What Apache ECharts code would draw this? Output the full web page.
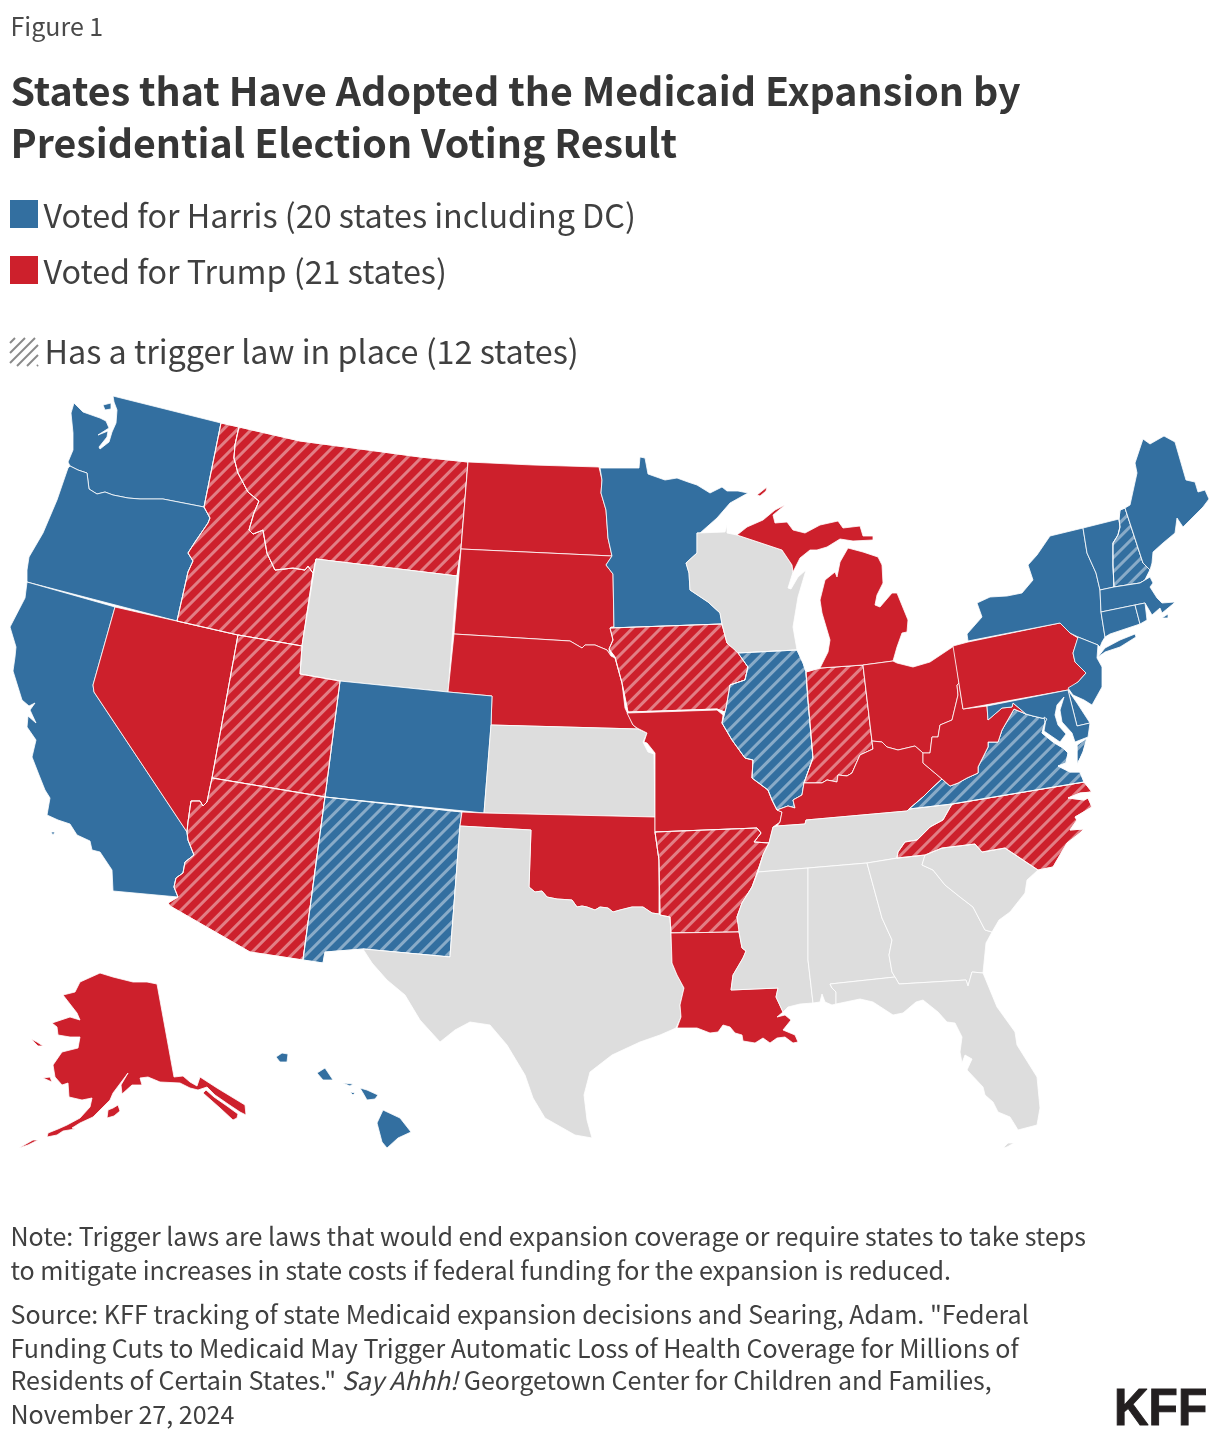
<!DOCTYPE html>
<html><head><meta charset="utf-8">
<script src="https://cdn.jsdelivr.net/npm/echarts@6/dist/echarts.min.js"></script>
<style>html,body{margin:0;padding:0;background:#fff}#c{width:1220px;height:1442px}</style>
</head><body><div id="c"></div>
<script>
// Expansion status by state
const harrisStates = ['Washington','Oregon','California','Colorado','Minnesota','New York','Vermont','Maine','Massachusetts','Connecticut','Rhode Island','New Jersey','Delaware','Maryland','District of Columbia','Hawaii','Illinois','New Mexico','Virginia','New Hampshire'];
const trumpStates = ['Alaska','Nevada','North Dakota','South Dakota','Nebraska','Oklahoma','Louisiana','Missouri','Kentucky','West Virginia','Ohio','Pennsylvania','Michigan','Idaho','Montana','Utah','Arizona','Iowa','Arkansas','Indiana','North Carolina'];
const notAdoptedStates = ['Wyoming','Kansas','Texas','Wisconsin','Mississippi','Alabama','Georgia','South Carolina','Florida','Tennessee'];
const triggerStates = ['Idaho','Montana','Utah','Arizona','Iowa','Arkansas','Indiana','North Carolina','Illinois','New Mexico','Virginia','New Hampshire'];
const legendLabels = ['Voted for Harris (20 states including DC)','Voted for Trump (21 states)','Has a trigger law in place (12 states)'];

// State outlines: a hand-simplified basemap in the map's own projected units
const basemap = {
'Washington':[[[74,403],[83,412],[100,418],[106,421],[109,428],[98,435],[108,431],[107,437],[99,447],[100,449],[109,442],[112,432],[116,423],[117,410],[114,402],[113,396],[221,423],[204,507],[163,499],[140,499],[128,498],[113,495],[105,492],[97,494],[89,489],[87,473],[78,470],[70,466],[68,462],[73,450],[73,433],[71,413]],[[103,405],[111,403],[111,409],[105,410]]],
'Oregon':[[[70,466],[78,470],[87,473],[89,489],[97,494],[105,492],[113,495],[128,498],[140,499],[163,499],[204,507],[210,518],[208,523],[195,542],[188,553],[193,561],[188,572],[177,621],[27,582],[27,570],[29,557],[43,533],[57,500],[68,468]]],
'California':[[[27,582],[115,607],[93,685],[94,692],[187,832],[188,840],[194,855],[185,862],[183,873],[176,878],[174,887],[178,897],[113,891],[112,870],[100,852],[92,850],[90,841],[77,835],[70,824],[58,820],[47,815],[50,798],[45,790],[39,775],[32,757],[36,740],[27,727],[28,716],[36,723],[30,710],[35,703],[29,706],[22,700],[13,671],[15,657],[16,647],[10,627],[25,598]],[[51,832],[55,832],[53,835]]],
'Nevada':[[[115,607],[238,635],[212,778],[207,802],[203,806],[200,801],[191,801],[188,822],[187,832],[94,692],[93,685]]],
'Idaho':[[[221,423],[239,427],[235,445],[234,458],[238,473],[248,492],[259,501],[254,513],[249,530],[253,534],[263,530],[267,553],[275,570],[293,568],[305,570],[308,566],[313,573],[302,646],[238,635],[177,621],[188,572],[193,561],[188,553],[195,542],[208,523],[210,518],[204,507]]],
'Montana':[[[239,427],[300,441],[368,450],[420,457],[468,462],[461,549],[457,576],[316,559],[313,573],[308,566],[305,570],[293,568],[275,570],[267,553],[263,530],[253,534],[249,530],[254,513],[259,501],[248,492],[238,473],[234,458],[235,445]]],
'Wyoming':[[[316,559],[457,576],[448,692],[340,681],[300,674],[302,646]]],
'North Dakota':[[[468,462],[533,465],[599,467],[602,480],[601,493],[606,510],[608,538],[612,556],[461,549]]],
'South Dakota':[[[461,549],[612,556],[606,565],[613,574],[614,627],[611,627],[613,640],[609,650],[611,656],[607,650],[595,645],[585,645],[582,648],[570,641],[454,634]]],
'Nebraska':[[[454,634],[570,641],[582,648],[585,645],[595,645],[607,650],[611,656],[615,658],[622,683],[625,708],[633,725],[638,729],[491,725],[492,696],[448,692]]],
'Colorado':[[[340,681],[448,692],[492,696],[491,725],[484,813],[325,797]]],
'Utah':[[[238,635],[302,646],[300,674],[340,681],[325,797],[212,778]]],
'Arizona':[[[212,778],[325,797],[303,960],[250,952],[170,906],[168,903],[178,897],[174,887],[176,878],[183,873],[185,862],[194,855],[188,840],[187,832],[188,822],[191,801],[200,801],[203,806],[207,802]]],
'New Mexico':[[[325,797],[462,812],[460,826],[450,957],[363,949],[325,952],[323,963],[303,960]]],
'Kansas':[[[491,725],[638,729],[647,733],[643,742],[648,752],[654,754],[655,817],[484,813]]],
'Oklahoma':[[[462,812],[484,813],[655,817],[655,832],[659,860],[659,914],[652,913],[643,907],[632,907],[620,910],[613,912],[608,908],[600,907],[595,910],[587,907],[582,906],[577,907],[572,900],[557,899],[547,897],[542,891],[535,892],[529,887],[531,830],[460,826]]],
'Texas':[[[460,826],[531,830],[529,887],[535,892],[542,891],[547,897],[557,899],[572,900],[577,907],[582,906],[587,907],[595,910],[600,907],[608,908],[613,912],[620,910],[632,907],[643,907],[652,913],[659,914],[670,917],[671,933],[672,963],[677,975],[684,988],[680,1005],[681,1017],[676,1028],[660,1035],[640,1042],[612,1055],[590,1072],[584,1095],[587,1120],[592,1138],[575,1135],[545,1118],[533,1098],[525,1075],[507,1045],[490,1025],[470,1022],[455,1030],[440,1042],[420,1020],[405,995],[387,980],[372,963],[363,949],[450,957]]],
'Minnesota':[[[600,468],[639,468],[640,457],[645,458],[648,474],[665,480],[677,478],[688,482],[697,485],[710,493],[722,487],[727,491],[738,491],[748,493],[730,503],[717,518],[700,533],[697,533],[697,553],[686,563],[689,573],[690,590],[708,602],[720,613],[722,624],[610,628],[611,627],[614,627],[613,574],[606,565],[612,556],[608,538],[606,510],[601,493],[602,480]]],
'Iowa':[[[610,628],[722,624],[727,643],[738,652],[748,667],[745,680],[730,685],[732,698],[725,712],[717,709],[628,712],[622,683],[615,657],[609,649],[613,640]]],
'Missouri':[[[627,713],[717,710],[723,715],[722,723],[732,740],[745,758],[753,760],[752,778],[768,790],[772,800],[777,810],[782,812],[780,822],[773,827],[769,843],[754,842],[761,833],[757,828],[655,832],[655,753],[647,743],[644,742],[647,733],[637,728],[633,725]]],
'Arkansas':[[[655,832],[757,828],[761,833],[754,842],[769,843],[763,855],[757,873],[752,887],[742,903],[737,917],[740,932],[671,933],[670,917],[660,915],[659,860]]],
'Louisiana':[[[671,933],[739,932],[742,948],[746,951],[743,958],[733,975],[731,990],[778,988],[776,997],[783,1012],[777,1017],[785,1015],[791,1020],[783,1030],[795,1035],[798,1042],[793,1043],[785,1037],[777,1038],[770,1043],[763,1038],[755,1043],[743,1041],[742,1035],[735,1033],[730,1027],[723,1025],[718,1032],[710,1033],[697,1028],[677,1028],[681,1017],[680,1005],[684,988],[677,975],[672,963]]],
'Wisconsin':[[[697,533],[725,532],[727,525],[727,533],[737,535],[782,550],[792,565],[793,572],[788,588],[791,589],[798,577],[806,570],[798,597],[793,627],[797,650],[738,653],[727,643],[722,624],[720,613],[708,602],[690,590],[689,573],[686,563],[697,553]]],
'Illinois':[[[738,653],[797,650],[803,663],[806,672],[808,700],[813,758],[804,783],[802,795],[793,800],[795,808],[788,806],[777,810],[772,800],[768,790],[752,778],[753,760],[745,758],[732,740],[722,723],[726,708],[730,685],[745,680],[748,667]]],
'Indiana':[[[806,672],[820,668],[863,665],[872,741],[873,749],[860,755],[852,773],[847,776],[838,775],[837,782],[827,780],[822,783],[804,783],[813,758],[808,700]]],
'Michigan':[[[737,535],[747,527],[763,520],[775,510],[785,505],[773,515],[775,523],[787,522],[793,530],[805,533],[820,525],[838,521],[843,528],[860,526],[863,536],[873,536],[873,540],[853,541],[840,539],[827,547],[817,550],[810,550],[800,558],[793,572],[792,565],[782,550]],[[848,548],[863,552],[878,557],[882,565],[883,583],[877,595],[875,605],[880,607],[892,593],[897,593],[908,620],[907,632],[902,633],[897,647],[893,661],[863,665],[820,668],[828,652],[830,640],[822,613],[820,600],[825,580],[835,572],[837,577],[840,562]],[[757,495],[767,487],[766,491],[760,496]]],
'Ohio':[[[954,646],[930,662],[913,667],[897,663],[893,661],[863,665],[872,741],[882,742],[887,747],[898,750],[915,746],[923,753],[930,753],[932,737],[938,737],[940,725],[952,720],[958,695],[957,685],[959,683]]],
'Kentucky':[[[873,749],[860,755],[852,773],[847,776],[838,775],[837,782],[827,780],[822,783],[804,783],[802,795],[793,800],[795,808],[788,806],[777,810],[782,812],[780,822],[777,826],[805,824],[806,820],[907,811],[909,809],[923,797],[930,790],[942,779],[923,763],[923,753],[915,746],[898,750],[887,747],[882,742],[872,741]]],
'Tennessee':[[[773,827],[777,826],[805,824],[806,820],[907,811],[909,809],[952,804],[943,820],[930,827],[917,840],[905,842],[898,852],[897,858],[867,863],[808,868],[758,872],[763,855],[769,843]]],
'Mississippi':[[[758,872],[808,868],[808,960],[813,1003],[800,1004],[788,1007],[783,1012],[776,997],[778,988],[731,990],[733,975],[743,958],[746,951],[742,948],[739,932],[737,917],[742,903],[752,887]]],
'Alabama':[[[808,868],[867,863],[882,918],[892,940],[889,955],[892,972],[895,977],[830,984],[832,988],[836,992],[836,1004],[832,1005],[825,1002],[822,994],[820,1002],[813,1003],[808,960]]],
'Georgia':[[[867,863],[898,858],[925,855],[922,865],[933,870],[945,885],[960,897],[973,907],[985,930],[992,932],[986,943],[983,973],[972,972],[968,986],[966,980],[899,984],[895,977],[892,972],[889,955],[892,940],[882,918]]],
'South Carolina':[[[925,855],[942,848],[975,844],[982,852],[1005,848],[1038,870],[1027,880],[1025,893],[1010,912],[999,920],[992,932],[985,930],[973,907],[960,897],[945,885],[933,870],[922,865]]],
'Florida':[[[830,984],[895,977],[899,984],[966,980],[968,986],[972,972],[983,973],[997,1007],[1015,1032],[1017,1045],[1037,1077],[1040,1108],[1037,1125],[1018,1130],[1015,1125],[1010,1117],[998,1112],[993,1102],[985,1095],[983,1087],[967,1070],[972,1059],[965,1055],[962,1063],[960,1052],[962,1037],[955,1023],[947,1022],[938,1012],[923,1000],[916,1002],[903,1013],[893,1015],[873,1002],[860,999],[836,1004],[836,992],[832,988]],[[1003,1148],[1008,1143],[1014,1143],[1007,1147]]],
'North Carolina':[[[952,804],[1084,782],[1092,792],[1080,793],[1068,798],[1084,800],[1088,798],[1092,807],[1075,817],[1077,820],[1070,830],[1084,829],[1080,833],[1067,843],[1053,867],[1038,870],[1005,848],[982,852],[975,844],[942,848],[925,855],[897,858],[898,852],[905,842],[917,840],[930,827],[943,820]]],
'Virginia':[[[909,809],[923,797],[930,790],[942,779],[950,786],[958,783],[967,778],[978,773],[978,767],[988,747],[988,742],[998,742],[1002,730],[1014,709],[1026,714],[1033,716],[1046,719],[1042,733],[1053,742],[1063,748],[1068,753],[1066,763],[1058,766],[1070,772],[1080,772],[1084,782],[952,804]],[[1087,738],[1083,752],[1077,765],[1077,745]]],
'West Virginia':[[[959,683],[963,709],[987,706],[988,720],[1002,708],[1012,707],[1013,703],[1026,714],[1014,709],[1002,730],[998,742],[988,742],[988,747],[978,767],[978,773],[967,778],[958,783],[950,786],[942,779],[923,763],[923,753],[930,753],[932,737],[938,737],[940,725],[952,720],[958,695],[957,685]]],
'Pennsylvania':[[[953,646],[968,642],[1060,623],[1070,633],[1078,638],[1073,653],[1075,662],[1086,673],[1078,682],[1068,690],[963,709]]],
'New York':[[[968,641],[967,634],[982,617],[977,603],[990,597],[1007,596],[1022,593],[1033,580],[1028,565],[1037,555],[1050,536],[1083,528],[1087,553],[1096,573],[1100,590],[1101,612],[1105,637],[1102,642],[1100,647],[1098,645],[1078,637],[1070,633],[1060,623]],[[1098,657],[1105,648],[1120,640],[1135,634],[1136,637],[1120,647],[1105,652]]],
'Vermont':[[[1083,528],[1119,519],[1120,527],[1118,535],[1113,543],[1113,565],[1114,587],[1100,590],[1096,573],[1087,553]]],
'New Hampshire':[[[1120,510],[1125,508],[1143,563],[1150,570],[1145,580],[1140,583],[1114,587],[1113,565],[1113,543],[1118,535],[1120,527],[1119,519]]],
'Maine':[[[1125,508],[1130,505],[1137,473],[1135,463],[1143,439],[1150,444],[1164,436],[1175,442],[1186,480],[1195,482],[1198,492],[1205,490],[1209,499],[1203,507],[1192,518],[1183,527],[1177,518],[1175,533],[1163,543],[1153,552],[1152,563],[1150,570],[1143,563]]],
'Massachusetts':[[[1100,590],[1114,587],[1140,583],[1145,580],[1150,577],[1153,583],[1150,587],[1157,598],[1162,603],[1175,602],[1173,604],[1162,613],[1160,608],[1152,615],[1145,603],[1135,605],[1101,612]],[[1162,618],[1168,614],[1168,618]]],
'Connecticut':[[[1101,612],[1135,605],[1140,624],[1110,634],[1105,637]]],
'Rhode Island':[[[1135,605],[1145,603],[1147,620],[1140,624]]],
'New Jersey':[[[1078,637],[1098,645],[1097,658],[1102,667],[1102,687],[1092,705],[1084,700],[1073,695],[1068,688],[1078,682],[1086,673],[1075,662],[1073,653]]],
'Delaware':[[[1068,690],[1077,703],[1090,723],[1077,726]]],
'Maryland':[[[987,706],[1068,690],[1077,726],[1090,723],[1088,737],[1075,742],[1072,733],[1062,722],[1060,710],[1064,697],[1057,705],[1055,715],[1058,725],[1066,734],[1060,742],[1044,731],[1046,719],[1033,716],[1026,714],[1013,703],[1012,707],[1002,708],[988,720]]],
'District of Columbia':[[[1044,717],[1047,719],[1045,722]]],
'Hawaii':[[[383,1110],[400,1118],[411,1132],[398,1138],[387,1148],[382,1142],[377,1123]],[[360,1088],[367,1090],[378,1095],[375,1099],[367,1100],[363,1093]],[[343,1083],[353,1084],[350,1086]],[[350,1092],[355,1093],[353,1095]],[[317,1073],[325,1068],[333,1080],[323,1080]],[[276,1057],[282,1053],[288,1054],[287,1062],[280,1062]]],
'Alaska':[[[157,984],[174,1077],[183,1076],[190,1082],[197,1086],[200,1077],[217,1088],[245,1105],[246,1115],[240,1112],[228,1104],[215,1095],[207,1087],[198,1090],[190,1088],[180,1083],[160,1082],[148,1077],[140,1078],[142,1085],[132,1085],[122,1094],[121,1085],[128,1073],[113,1093],[110,1100],[93,1117],[80,1123],[72,1128],[75,1129],[63,1131],[57,1135],[47,1137],[48,1133],[58,1129],[67,1125],[80,1118],[90,1107],[92,1098],[82,1100],[69,1097],[68,1083],[62,1085],[55,1077],[53,1065],[62,1052],[78,1048],[80,1037],[70,1037],[58,1035],[57,1027],[52,1023],[70,1017],[80,1020],[77,1013],[63,995],[75,992],[80,982],[100,973],[113,977],[133,982],[147,982]],[[206,1090],[214,1097],[227,1106],[238,1114],[237,1118],[233,1120],[220,1108],[203,1093]],[[108,1110],[113,1108],[118,1105],[120,1111],[114,1116],[107,1118]],[[43,1078],[50,1077],[52,1082]],[[31,1039],[37,1042],[43,1046],[38,1046]],[[19,1148],[33,1140],[38,1140],[28,1145]]]
};

const BLUE='#336FA0', RED='#CD202C', GRAY='#DDDDDD';
const geoJson = {type:'FeatureCollection',features:Object.keys(basemap).map(n=>({type:'Feature',properties:{name:n},
  geometry:{type:'MultiPolygon',coordinates:basemap[n].map(r=>[r.concat([r[0]])])}}))};
echarts.registerMap('usStates', geoJson);

const hatch = {symbol:'rect',symbolSize:1,dashArrayX:[1,0],dashArrayY:[3,7],rotation:-Math.PI/4,color:'rgba(255,255,255,0.42)'};
const mapData = [];
function add(list,color){list.forEach(name=>{
  const st={areaColor:color,color:color,borderColor:'#fff',borderWidth:0.8};
  if(triggerStates.includes(name)) st.decal=hatch;
  mapData.push({name,value:1,itemStyle:st});
});}
add(harrisStates,BLUE);add(trumpStates,RED);add(notAdoptedStates,GRAY);

const FONT='"Noto Sans CJK JP","Noto Sans",sans-serif';
function T(x,base,text,size,o){o=o||{};return {type:'text',silent:true,x:x,y:base-1-size*0.36,style:Object.assign({text:text,fontFamily:FONT,fontSize:size,fill:o.fill||'#404040',fontWeight:o.w||'normal',verticalAlign:'middle',align:'left'},o.s||{})};}
const els=[
 T(10.5,36,'Figure 1',25,{fill:'#4a4a4a'}),
 T(10.5,106,'States that Have Adopted the Medicaid Expansion by',39.35,{w:'bold',fill:'#363636'}),
 T(10.5,158,'Presidential Election Voting Result',39.35,{w:'bold',fill:'#363636'}),
 {type:'rect',silent:true,shape:{x:10,y:200,width:28,height:28},style:{fill:BLUE}},
 {type:'rect',silent:true,shape:{x:10,y:256,width:28,height:28},style:{fill:RED}},
 T(43.5,228,legendLabels[0],32.3),T(43.5,284,legendLabels[1],32.3),T(44.5,364,legendLabels[2],32.3),
 T(10.5,1246,'Note: Trigger laws are laws that would end expansion coverage or require states to take steps',25.05),
 T(10.5,1280,'to mitigate increases in state costs if federal funding for the expansion is reduced.',25.05),
 T(10.5,1324,'Source: KFF tracking of state Medicaid expansion decisions and Searing, Adam. "Federal',25.05),
 T(10.5,1358,'Funding Cuts to Medicaid May Trigger Automatic Loss of Health Coverage for Millions of',25.05),
 T(10.5,1390,'{a|Residents of Certain States." }{b|Say Ahhh!}{a| Georgetown Center for Children and Families,}',25,{s:{rich:{a:{fontFamily:FONT,fontSize:25,fill:'#404040'},b:{fontFamily:FONT,fontSize:25,fill:'#404040',fontStyle:'italic'}}}}),
 T(10.5,1424,'November 27, 2024',25.05),
 {type:'text',silent:true,x:1114,y:1411,scaleX:0.94,style:{text:'KFF',fontFamily:'"Liberation Sans",Arial,sans-serif',fontWeight:'bold',fontSize:51,fill:'#231f20',stroke:'#231f20',lineWidth:1,verticalAlign:'middle'}}
];
// hatched legend swatch (diagonal strokes clipped to a 28px square)
for(let d=5;d<56;d+=10){
  const x1=10+Math.max(0,d-28), y1=338+Math.min(d,28), x2=10+Math.min(d,28), y2=338+Math.max(0,d-28);
  els.push({type:'line',silent:true,shape:{x1:x1,y1:y1,x2:x2,y2:y2},style:{stroke:'#8a8a8a',lineWidth:2}});
}
const chart=echarts.init(document.getElementById('c'),null,{renderer:'canvas'});
chart.setOption({
 animation:false,backgroundColor:'#fff',
 graphic:{elements:els},
 series:[{type:'map',map:'usStates',projection:{project:p=>p,unproject:p=>p},boundingCoords:[[0,0],[1220,1442]],left:0,top:0,width:1220,height:1442,roam:false,silent:true,selectedMode:false,label:{show:false},emphasis:{disabled:true},data:mapData}]
});
</script></body></html>
